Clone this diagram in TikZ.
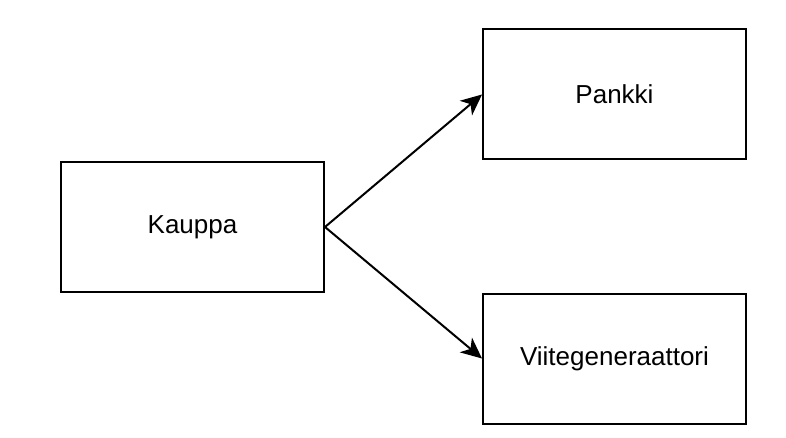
\documentclass[tikz,border=0pt]{standalone}
\usepackage{fontspec}
\setmainfont{Liberation Sans}
\usepackage{tikz}
\usetikzlibrary{arrows.meta}
\tikzset{block/.style={draw, line width=2pt, rectangle,
        minimum width=263pt, minimum height=130pt,
        font=\fontsize{26}{31}\selectfont},
    link/.style={draw, line width=2pt,
        -{Stealth[length=21pt, width=19pt, inset=6pt]}}}

\begin{document}
\begin{tikzpicture}[x=1pt, y=-1pt]
        \useasboundingbox (0,0) rectangle (786,438);
        \node[block] (kauppa) at (192.5,227) {Kauppa};
        \node[block] (pankki) at (614.5,94.5) {Pankki};
        \node[block] (viite) at (614.5,358.5) {Viitegeneraattori};
        \draw[link] (kauppa.east) -- (pankki.west);
        \draw[link] (kauppa.east) -- (viite.west);
    \end{tikzpicture}
\end{document}
